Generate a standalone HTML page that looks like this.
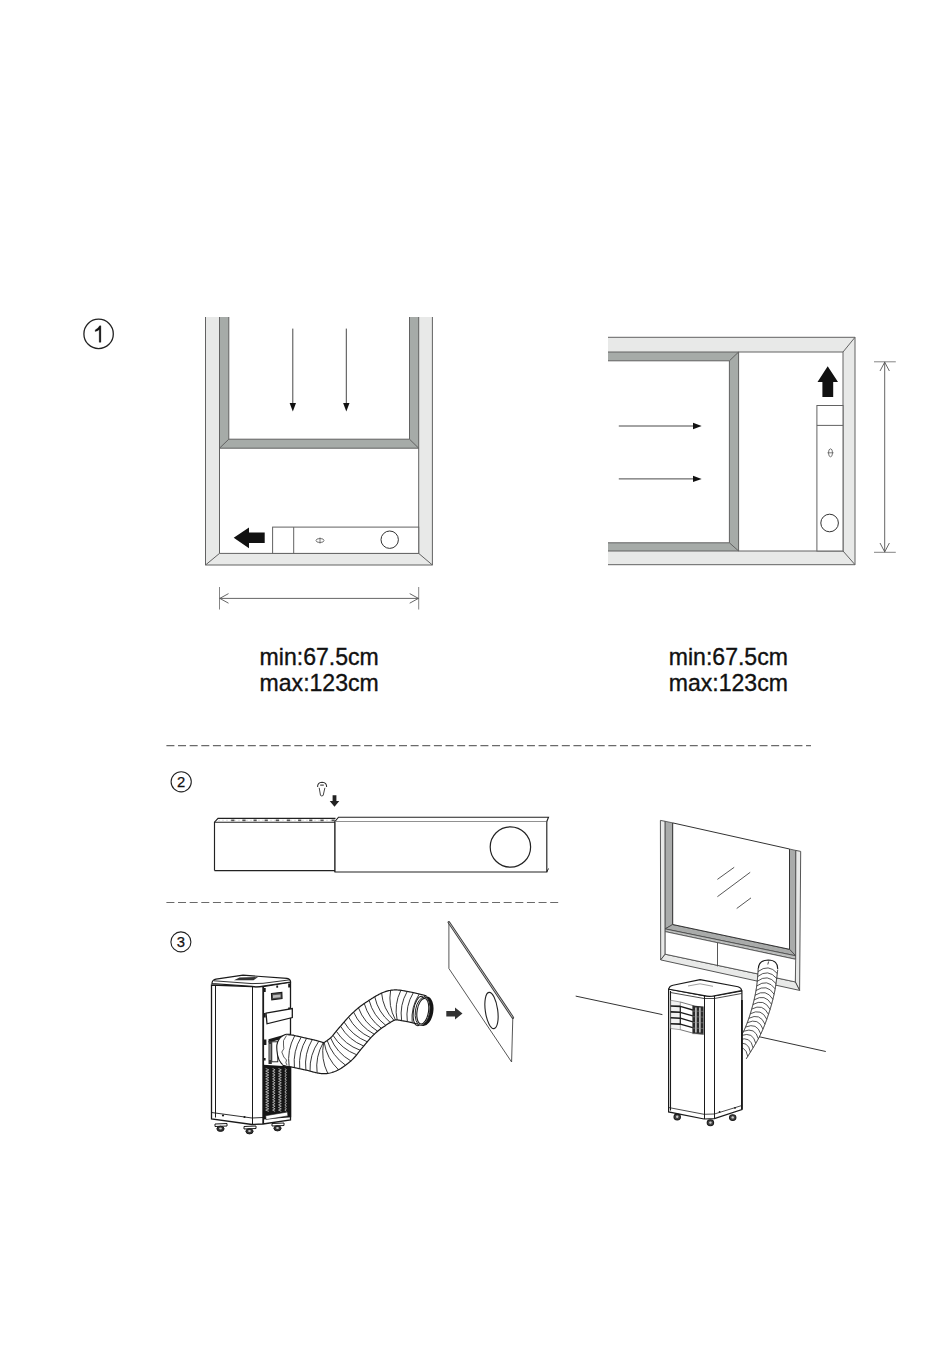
<!DOCTYPE html>
<html><head><meta charset="utf-8"><style>
html,body{margin:0;padding:0;background:#fff;}
body{width:950px;height:1353px;overflow:hidden;}
svg{display:block;font-family:"Liberation Sans",sans-serif;}
</style></head><body>
<svg width="950" height="1353" viewBox="0 0 950 1353">
<circle cx="98.6" cy="333.9" r="14.7" fill="none" stroke="#222" stroke-width="1.3"/>
<path d="M100.9,342.3 L100.9,325.8 L99.6,325.8 Q98.2,328.6 95.2,329.9 L95.2,331.6 Q98.3,330.7 99.2,329.4 L99.2,342.3 Z" fill="#111" stroke="#111" stroke-width="0.3"/>
<polygon points="205.5,317.0 432.4,317.0 432.4,565.0 205.5,565.0" fill="#e8e9e8" stroke="none" stroke-width="0" />
<rect x="219.5" y="317" width="199.2" height="236.39999999999998" fill="#fff"/>
<polygon points="219.5,317.0 418.7,317.0 418.7,448.2 219.5,448.2" fill="#a6aba8" stroke="none" stroke-width="0" />
<rect x="228.8" y="317" width="180.7" height="122.19999999999999" fill="#fff"/>
<polyline points="205.5,317 205.5,565 432.4,565 432.4,317" fill="none" stroke="#626262" stroke-width="1" stroke-linejoin="miter"/>
<polyline points="219.5,317 219.5,553.4 418.7,553.4 418.7,317" fill="none" stroke="#626262" stroke-width="1" stroke-linejoin="miter"/>
<polyline points="228.8,317 228.8,439.2 409.5,439.2 409.5,317" fill="none" stroke="#626262" stroke-width="1" stroke-linejoin="miter"/>
<line x1="219.5" y1="448.2" x2="418.7" y2="448.2" stroke="#626262" stroke-width="1" />
<line x1="205.5" y1="565" x2="219.5" y2="553.4" stroke="#626262" stroke-width="1" />
<line x1="432.4" y1="565" x2="418.7" y2="553.4" stroke="#626262" stroke-width="1" />
<line x1="219.5" y1="448.2" x2="228.8" y2="439.2" stroke="#626262" stroke-width="1" />
<line x1="418.7" y1="448.2" x2="409.5" y2="439.2" stroke="#626262" stroke-width="1" />
<line x1="292.8" y1="328.6" x2="292.8" y2="404" stroke="#333" stroke-width="0.9" />
<polygon points="289.6,403.0 296.0,403.0 292.8,411.6" fill="#111" stroke="none" stroke-width="0" />
<line x1="346.3" y1="328.6" x2="346.3" y2="404" stroke="#333" stroke-width="0.9" />
<polygon points="343.1,403.0 349.5,403.0 346.3,411.6" fill="#111" stroke="none" stroke-width="0" />
<rect x="272.6" y="527.1" width="146.1" height="26.3" fill="#fff" stroke="#626262" stroke-width="1"/>
<line x1="293.7" y1="527.1" x2="293.7" y2="553.4" stroke="#626262" stroke-width="1" />
<circle cx="389.7" cy="539.7" r="8.7" fill="none" stroke="#333" stroke-width="1"/>
<ellipse cx="320" cy="540.5" rx="4" ry="2" fill="none" stroke="#555" stroke-width="0.8"/>
<line x1="320" y1="537.5" x2="320" y2="543.5" stroke="#555" stroke-width="0.8" />
<polygon points="233.7,537.8 249.0,527.4 249.0,532.4 264.7,532.4 264.7,542.9 249.0,542.9 249.0,548.2" fill="#111" stroke="none" stroke-width="0" />
<line x1="219.5" y1="587" x2="219.5" y2="609.5" stroke="#777" stroke-width="0.9" />
<line x1="418.7" y1="587" x2="418.7" y2="609.5" stroke="#777" stroke-width="0.9" />
<line x1="219.5" y1="598.4" x2="418.7" y2="598.4" stroke="#555" stroke-width="0.9" />
<polyline points="228.5,593.6 219.8,598.4 228.5,603.2" fill="none" stroke="#555" stroke-width="0.9"/>
<polyline points="409.7,593.6 418.4,598.4 409.7,603.2" fill="none" stroke="#555" stroke-width="0.9"/>
<polygon points="608.0,337.3 855.0,337.3 855.0,564.7 608.0,564.7" fill="#e8e9e8" stroke="none" stroke-width="0" />
<rect x="608" y="352" width="235" height="199" fill="#fff"/>
<polygon points="608.0,352.0 738.6,352.0 738.6,551.0 608.0,551.0" fill="#a6aba8" stroke="none" stroke-width="0" />
<rect x="608" y="360.8" width="121.39999999999998" height="181.99999999999994" fill="#fff"/>
<polyline points="608,337.3 855,337.3 855,564.7 608,564.7" fill="none" stroke="#626262" stroke-width="1" stroke-linejoin="miter"/>
<polyline points="608,352 843,352 843,551 608,551" fill="none" stroke="#626262" stroke-width="1" stroke-linejoin="miter"/>
<polyline points="608,360.8 729.4,360.8 729.4,542.8 608,542.8" fill="none" stroke="#626262" stroke-width="1" stroke-linejoin="miter"/>
<line x1="738.6" y1="352" x2="738.6" y2="551" stroke="#626262" stroke-width="1" />
<line x1="855" y1="337.3" x2="843" y2="352" stroke="#626262" stroke-width="1" />
<line x1="855" y1="564.7" x2="843" y2="551" stroke="#626262" stroke-width="1" />
<line x1="738.6" y1="352" x2="729.4" y2="360.8" stroke="#626262" stroke-width="1" />
<line x1="738.6" y1="551" x2="729.4" y2="542.8" stroke="#626262" stroke-width="1" />
<line x1="618.8" y1="426" x2="694" y2="426" stroke="#333" stroke-width="0.9" />
<polygon points="693.0,422.8 693.0,429.2 701.7,426.0" fill="#111" stroke="none" stroke-width="0" />
<line x1="618.8" y1="478.9" x2="694" y2="478.9" stroke="#333" stroke-width="0.9" />
<polygon points="693.0,475.7 693.0,482.1 701.7,478.9" fill="#111" stroke="none" stroke-width="0" />
<rect x="816.9" y="405.5" width="26.1" height="145.5" fill="#fff" stroke="#626262" stroke-width="1"/>
<line x1="816.9" y1="425.4" x2="843" y2="425.4" stroke="#626262" stroke-width="1" />
<circle cx="829.6" cy="523" r="8.8" fill="none" stroke="#333" stroke-width="1"/>
<ellipse cx="830.5" cy="452.8" rx="2" ry="4" fill="none" stroke="#555" stroke-width="0.8"/>
<line x1="827.5" y1="452.8" x2="833.5" y2="452.8" stroke="#555" stroke-width="0.8" />
<polygon points="827.7,366.3 838.0,382.0 833.2,382.0 833.2,397.0 822.4,397.0 822.4,382.0 817.5,382.0" fill="#111" stroke="none" stroke-width="0" />
<line x1="874" y1="361.8" x2="895.8" y2="361.8" stroke="#777" stroke-width="0.9" />
<line x1="874" y1="552.3" x2="895.8" y2="552.3" stroke="#777" stroke-width="0.9" />
<line x1="884.7" y1="361.8" x2="884.7" y2="552.3" stroke="#555" stroke-width="0.9" />
<polyline points="880,371 884.7,362.2 889.4,371" fill="none" stroke="#555" stroke-width="0.9"/>
<polyline points="880,543 884.7,551.9 889.4,543" fill="none" stroke="#555" stroke-width="0.9"/>
<text x="259.6" y="664.8" font-size="23.05" fill="#111" stroke="#111" stroke-width="0.35">min:67.5cm</text>
<text x="259.6" y="690.6" font-size="23.05" fill="#111" stroke="#111" stroke-width="0.35">max:123cm</text>
<text x="668.8" y="664.8" font-size="23.05" fill="#111" stroke="#111" stroke-width="0.35">min:67.5cm</text>
<text x="668.8" y="690.6" font-size="23.05" fill="#111" stroke="#111" stroke-width="0.35">max:123cm</text>
<line x1="166.4" y1="745.6" x2="811" y2="745.6" stroke="#6a6a6a" stroke-width="1.2" stroke-dasharray="8 3.63"/>
<line x1="166.4" y1="902.5" x2="559.2" y2="902.5" stroke="#6a6a6a" stroke-width="1.2" stroke-dasharray="8 3.63"/>
<circle cx="181.2" cy="781.8" r="10.1" fill="none" stroke="#222" stroke-width="1.1"/><text x="181.2" y="787.1" font-size="14.8" text-anchor="middle" fill="#111" stroke="#111" stroke-width="0.25">2</text>
<circle cx="180.9" cy="941.9" r="10.0" fill="none" stroke="#222" stroke-width="1.1"/><text x="180.9" y="947.2" font-size="14.8" text-anchor="middle" fill="#111" stroke="#111" stroke-width="0.25">3</text>
<path d="M214.5,870.6 L214.5,822.2 L218,818.4 L335.5,818.4" fill="none" stroke="#222" stroke-width="1.15"/>
<line x1="214.5" y1="822.2" x2="335.5" y2="822.2" stroke="#222" stroke-width="1.15" />
<line x1="214.5" y1="870.6" x2="335.5" y2="870.6" stroke="#222" stroke-width="1.15" />
<line x1="218" y1="820.3" x2="335" y2="820.3" stroke="#bbb" stroke-width="0.5" stroke-dasharray="2 2"/>
<rect x="231.2" y="819.5" width="3.2" height="1.7" fill="#555"/>
<rect x="242.4" y="819.5" width="3.2" height="1.7" fill="#555"/>
<rect x="253.5" y="819.5" width="3.2" height="1.7" fill="#555"/>
<rect x="264.6" y="819.5" width="3.2" height="1.7" fill="#555"/>
<rect x="275.8" y="819.5" width="3.2" height="1.7" fill="#555"/>
<rect x="286.9" y="819.5" width="3.2" height="1.7" fill="#555"/>
<rect x="298.1" y="819.5" width="3.2" height="1.7" fill="#555"/>
<rect x="309.2" y="819.5" width="3.2" height="1.7" fill="#555"/>
<rect x="320.4" y="819.5" width="3.2" height="1.7" fill="#555"/>
<rect x="331.6" y="819.5" width="3.2" height="1.7" fill="#555"/>
<path d="M335,872 L335,821.5 L338.5,817.2 L548.5,817.2 L546.8,821.5 L335,821.5" fill="#fff" stroke="#222" stroke-width="1.15"/>
<path d="M335,821.5 L335,872 L546.8,872 L546.8,821.5" fill="#fff" stroke="#222" stroke-width="1.15"/>
<line x1="546.8" y1="872" x2="548.5" y2="868.5" stroke="#222" stroke-width="1" />
<circle cx="510.4" cy="847" r="20.2" fill="none" stroke="#222" stroke-width="1.2"/>
<path d="M317.6,787 Q317.3,782.5 322.1,782.3 Q326.9,782.5 326.6,787" fill="none" stroke="#333" stroke-width="1.1"/>
<line x1="320.2" y1="785.1" x2="323.8" y2="785.1" stroke="#222" stroke-width="1" />
<path d="M319.2,787.8 L320.5,795.4 Q321.8,796.6 323.2,795.4 L324.9,787.8" fill="#fff" stroke="#444" stroke-width="1"/>
<polygon points="332.6,795.2 336.4,795.2 336.4,801.0 339.3,801.0 334.5,806.8 329.7,801.0 332.6,801.0" fill="#222" stroke="none" stroke-width="0" />
<polygon points="448.9,922.4 512.8,1017.6 511.6,1062.0 448.9,968.5" fill="#fff" stroke="#444" stroke-width="0.9" />
<line x1="448.9" y1="922.4" x2="512.8" y2="1017.6" stroke="#3a3a3a" stroke-width="2.6" stroke-linecap="round"/>
<line x1="448.9" y1="922.4" x2="512.8" y2="1017.6" stroke="#c8c8c8" stroke-width="0.9" />
<ellipse cx="491.5" cy="1010.5" rx="6.2" ry="18.3" transform="rotate(-8 491.5 1010.5)" fill="none" stroke="#222" stroke-width="1.1"/>
<polygon points="446.3,1011.0 455.0,1011.0 455.0,1007.6 462.5,1013.6 455.0,1019.4 455.0,1016.5 446.3,1016.5" fill="#333" stroke="none" stroke-width="0" />
<line x1="575.7" y1="996.1" x2="662.4" y2="1014.6" stroke="#333" stroke-width="1" />
<line x1="759" y1="1036.7" x2="825.8" y2="1051.5" stroke="#333" stroke-width="1" />
<polygon points="660.4,820.4 665.2,821.3 665.2,954.2 660.7,959.9" fill="#e8e9e8" stroke="#444" stroke-width="0.9" />
<polygon points="795.7,850.4 800.7,851.4 799.6,990.4 795.3,981.9" fill="#e8e9e8" stroke="#444" stroke-width="0.9" />
<polygon points="660.7,959.9 665.2,954.2 795.3,981.9 799.6,990.4" fill="#e8e9e8" stroke="#444" stroke-width="0.9" />
<polygon points="665.2,821.3 672.7,822.9 672.7,924.5 665.2,928.9" fill="#a9abaa" stroke="#444" stroke-width="0.8" />
<polygon points="789.5,849.0 795.7,850.4 795.7,955.8 789.5,949.3" fill="#a9abaa" stroke="#444" stroke-width="0.8" />
<polygon points="665.2,928.9 672.7,924.5 789.5,949.3 795.7,955.8" fill="#a9abaa" stroke="#444" stroke-width="0.8" />
<polygon points="665.2,928.9 795.7,955.8 795.7,959.3 665.2,931.6" fill="#bdbfbe" stroke="#444" stroke-width="0.8" />
<polygon points="672.7,822.9 789.5,849.0 789.5,949.3 672.7,924.5" fill="#fff" stroke="#333" stroke-width="1" />
<polygon points="665.2,931.6 795.7,959.3 795.3,981.9 665.2,954.2" fill="#fff" stroke="#444" stroke-width="0.8" />
<line x1="717.5" y1="942.7" x2="717.5" y2="966.4" stroke="#444" stroke-width="0.9" />
<line x1="717.4" y1="879.4" x2="734.2" y2="867.3" stroke="#444" stroke-width="0.9" />
<line x1="717.4" y1="896.7" x2="750.2" y2="872.3" stroke="#444" stroke-width="0.9" />
<line x1="736.7" y1="908.5" x2="751" y2="897.9" stroke="#444" stroke-width="0.9" />
<path d="M211.5,985 L211.5,1119 L252,1124.5 L263,1124 L290.5,1120 L290.5,982 L263,986.5 L252,986.5 Z" fill="#fff" stroke="#1a1a1a" stroke-width="1.3"/>
<line x1="215.5" y1="986" x2="215.5" y2="1117.5" stroke="#1a1a1a" stroke-width="1" />
<line x1="252.5" y1="986.5" x2="252.5" y2="1124.5" stroke="#1a1a1a" stroke-width="1" />
<line x1="263.2" y1="986.5" x2="263.2" y2="1124" stroke="#1a1a1a" stroke-width="1.8" />
<polyline points="211.5,1112.5 252,1118 263,1117.5 290.5,1113.5" fill="none" stroke="#1a1a1a" stroke-width="0.9"/>
<path d="M212,983 Q212.5,979.8 216,979.2 L243,975.2 L287,978.4 Q290.5,979 290.5,982 L263,986 Q257.5,987.5 252,986.3 L212,983.5 Z" fill="#fff" stroke="#1a1a1a" stroke-width="1.2"/>
<polyline points="214,980.8 252,983.6 263,983.3 290,979.8" fill="none" stroke="#1a1a1a" stroke-width="0.9"/>
<path d="M234,980.2 L239.5,977.6 L258,977 L253.5,980.3 Z" fill="#333"/>
<rect x="263.5" y="988" width="2.2" height="4" fill="#1a1a1a"/>
<rect x="288.2" y="983.5" width="2.2" height="4" fill="#1a1a1a"/>
<rect x="263.5" y="1013" width="2.2" height="4.5" fill="#1a1a1a"/>
<rect x="288.2" y="1007.5" width="2.2" height="4.5" fill="#1a1a1a"/>
<rect x="276.3" y="985.5" width="1.8" height="2.2" fill="#1a1a1a"/>
<path d="M271.5,993.5 L281.8,992.3 L282,998.5 L271.8,999.8 Z" fill="#555" stroke="#1a1a1a" stroke-width="1.2"/>
<path d="M273,995.3 L280.5,994.4 L280.5,997.2 L273,998.1 Z" fill="#bbb"/>
<path d="M266,1013.2 L292.3,1008.6 L292.3,1017.6 L267,1023.8 Z" fill="#fff" stroke="#1a1a1a" stroke-width="1.3"/>
<path d="M268.5,1039.3 L286.2,1034.3 L286.2,1037.5 L271.8,1041.8 L268.5,1042.5 Z" fill="#1a1a1a"/>
<rect x="268.5" y="1041" width="3.3" height="23" fill="#333"/>
<rect x="269.4" y="1044" width="1.4" height="16" fill="#999"/>
<rect x="271.8" y="1041.8" width="6" height="20" fill="#fff" stroke="#1a1a1a" stroke-width="0.9"/>
<rect x="263.6" y="1039.5" width="2.8" height="5.5" fill="#1a1a1a"/>
<rect x="263.6" y="1058" width="2" height="2.5" fill="#1a1a1a"/>
<path d="M263.1,1064.7 L291.2,1066.5 L291.2,1117.2 L263.1,1119.6 Z" fill="#151515"/>
<path d="M265.7,1068.5 L268.8,1069.8 L265.7,1071.1 L268.8,1072.4 L265.7,1073.7 L268.8,1075.0 L265.7,1076.3 L268.8,1077.6 L265.7,1078.9 L268.8,1080.2 L265.7,1081.5 L268.8,1082.8 L265.7,1084.1 L268.8,1085.4 L265.7,1086.7 L268.8,1088.0 L265.7,1089.3 L268.8,1090.6 L265.7,1091.9 L268.8,1093.2 L265.7,1094.5 L268.8,1095.8 L265.7,1097.1 L268.8,1098.4 L265.7,1099.7 L268.8,1101.0 L265.7,1102.3 L268.8,1103.6 L265.7,1104.9 L268.8,1106.2 L265.7,1107.5 L268.8,1108.8 L265.7,1110.1 L268.8,1111.4 M272.6,1068.5 L275.1,1069.8 L272.6,1071.1 L275.1,1072.4 L272.6,1073.7 L275.1,1075.0 L272.6,1076.3 L275.1,1077.6 L272.6,1078.9 L275.1,1080.2 L272.6,1081.5 L275.1,1082.8 L272.6,1084.1 L275.1,1085.4 L272.6,1086.7 L275.1,1088.0 L272.6,1089.3 L275.1,1090.6 L272.6,1091.9 L275.1,1093.2 L272.6,1094.5 L275.1,1095.8 L272.6,1097.1 L275.1,1098.4 L272.6,1099.7 L275.1,1101.0 L272.6,1102.3 L275.1,1103.6 L272.6,1104.9 L275.1,1106.2 L272.6,1107.5 L275.1,1108.8 L272.6,1110.1 L275.1,1111.4 M278.5,1068.5 L281.3,1069.8 L278.5,1071.1 L281.3,1072.4 L278.5,1073.7 L281.3,1075.0 L278.5,1076.3 L281.3,1077.6 L278.5,1078.9 L281.3,1080.2 L278.5,1081.5 L281.3,1082.8 L278.5,1084.1 L281.3,1085.4 L278.5,1086.7 L281.3,1088.0 L278.5,1089.3 L281.3,1090.6 L278.5,1091.9 L281.3,1093.2 L278.5,1094.5 L281.3,1095.8 L278.5,1097.1 L281.3,1098.4 L278.5,1099.7 L281.3,1101.0 L278.5,1102.3 L281.3,1103.6 L278.5,1104.9 L281.3,1106.2 L278.5,1107.5 L281.3,1108.8 L278.5,1110.1 L281.3,1111.4 M284.8,1068.5 L286.5,1069.8 L284.8,1071.1 L286.5,1072.4 L284.8,1073.7 L286.5,1075.0 L284.8,1076.3 L286.5,1077.6 L284.8,1078.9 L286.5,1080.2 L284.8,1081.5 L286.5,1082.8 L284.8,1084.1 L286.5,1085.4 L284.8,1086.7 L286.5,1088.0 L284.8,1089.3 L286.5,1090.6 L284.8,1091.9 L286.5,1093.2 L284.8,1094.5 L286.5,1095.8 L284.8,1097.1 L286.5,1098.4 L284.8,1099.7 L286.5,1101.0 L284.8,1102.3 L286.5,1103.6 L284.8,1104.9 L286.5,1106.2 L284.8,1107.5 L286.5,1108.8 L284.8,1110.1 L286.5,1111.4" stroke="#cfcfcf" stroke-width="0.75" fill="none"/>
<path d="M265.7,1115.7 L287.5,1112 L287.9,1115.9 L266.1,1119.6 Z" fill="#fff" stroke="#1a1a1a" stroke-width="0.6"/>
<path d="M215,1124 L227,1123.5 L227,1126 L215,1126.5 Z" fill="#fff" stroke="#1a1a1a" stroke-width="1"/>
<ellipse cx="220.5" cy="1128.8" rx="3.6" ry="2.6" fill="#333" stroke="#1a1a1a" stroke-width="1"/>
<ellipse cx="220.5" cy="1128.6" rx="1.4" ry="1" fill="#ccc"/>
<path d="M244,1126.5 L256,1126.0 L256,1128.5 L244,1129.0 Z" fill="#fff" stroke="#1a1a1a" stroke-width="1"/>
<ellipse cx="249.5" cy="1131.3" rx="3.6" ry="2.6" fill="#333" stroke="#1a1a1a" stroke-width="1"/>
<ellipse cx="249.5" cy="1131.1" rx="1.4" ry="1" fill="#ccc"/>
<path d="M272,1123.5 L284,1123.0 L284,1125.5 L272,1126.0 Z" fill="#fff" stroke="#1a1a1a" stroke-width="1"/>
<ellipse cx="277.5" cy="1128.3" rx="3.6" ry="2.6" fill="#333" stroke="#1a1a1a" stroke-width="1"/>
<ellipse cx="277.5" cy="1128.1" rx="1.4" ry="1" fill="#ccc"/>
<circle cx="223" cy="1115.5" r="1.1" fill="#1a1a1a"/>
<circle cx="244.5" cy="1117" r="1.1" fill="#1a1a1a"/>
<path d="M286.2,1034.3 Q275.5,1038 276.9,1050.3 Q277.5,1062 284.5,1066 L290,1066 L290,1034.3 Z" fill="#fff" stroke="#1a1a1a" stroke-width="1.1"/>
<path d="M287.38,1034.68 L287.85,1034.72 L288.33,1034.75 L288.80,1034.78 L289.30,1034.82 L289.82,1034.85 L290.35,1034.89 L290.89,1034.94 L291.44,1034.98 L291.99,1035.03 L292.54,1035.08 L293.10,1035.14 L293.66,1035.19 L294.17,1035.55 L294.73,1035.65 L295.28,1035.76 L295.84,1035.86 L296.40,1035.97 L296.96,1036.09 L297.52,1036.20 L298.06,1036.32 L298.60,1036.44 L299.14,1036.55 L299.66,1036.67 L300.18,1036.79 L300.70,1036.90 L301.21,1037.02 L301.71,1037.13 L302.21,1037.25 L302.71,1037.36 L303.21,1037.48 L303.70,1037.59 L304.19,1037.71 L304.68,1037.82 L305.17,1037.93 L305.66,1038.05 L306.14,1038.16 L306.62,1038.27 L307.10,1038.38 L307.58,1038.49 L308.05,1038.60 L308.53,1038.71 L309.00,1038.82 L309.47,1038.92 L309.94,1039.03 L310.41,1039.14 L310.87,1039.24 L311.33,1039.34 L311.79,1039.44 L312.25,1039.54 L312.75,1039.65 L313.32,1039.77 L313.94,1039.90 L314.60,1040.06 L315.28,1040.23 L315.92,1040.40 L316.54,1040.57 L317.15,1040.73 L317.71,1040.90 L318.26,1041.06 L318.79,1041.22 L319.28,1041.37 L319.76,1041.51 L320.23,1041.65 L320.66,1041.78 L321.07,1041.90 L321.47,1042.02 L321.84,1042.13 L322.18,1042.22 L322.51,1042.31 L322.81,1042.38 L323.07,1042.45 L323.31,1042.50 L323.53,1042.55 L323.71,1042.59 L323.85,1042.61 L323.96,1042.63 L324.03,1042.64 L324.06,1042.65 L324.05,1042.65 L323.99,1042.66 L323.88,1042.66 L323.74,1042.68 L323.61,1042.69 L323.49,1042.72 L323.39,1042.74 L323.34,1042.75 L323.32,1042.76 L323.36,1042.75 L323.41,1042.74 L323.48,1042.71 L323.58,1042.67 L323.69,1042.63 L323.84,1042.56 L324.00,1042.49 L324.17,1042.40 L324.36,1042.31 L324.57,1042.19 L324.79,1042.07 L325.02,1041.93 L325.26,1041.79 L325.51,1041.63 L325.78,1041.46 L326.04,1041.28 L326.32,1041.09 L326.61,1040.89 L326.90,1040.68 L327.20,1040.47 L327.51,1040.24 L327.82,1040.00 L328.14,1039.76 L328.47,1039.51 L328.80,1039.25 L329.15,1038.98 L329.49,1038.70 L329.82,1038.44 L330.11,1038.22 L330.35,1038.02 L330.54,1037.86 L330.70,1037.72 L330.87,1037.57 L331.04,1037.41 L331.22,1037.23 L331.41,1037.04 L331.61,1036.83 L331.82,1036.61 L332.03,1036.38 L332.25,1036.13 L332.49,1035.86 L332.72,1035.58 L332.97,1035.29 L333.23,1034.98 L333.49,1034.66 L333.77,1034.32 L334.05,1033.97 L334.34,1033.61 L334.64,1033.23 L334.95,1032.84 L335.26,1032.44 L335.59,1032.03 L335.93,1031.61 L336.27,1031.18 L336.63,1030.74 L337.00,1030.28 L337.38,1029.82 L337.77,1029.36 L338.17,1028.89 L338.56,1028.43 L338.93,1028.01 L339.28,1027.62 L339.60,1027.26 L339.90,1026.91 L340.20,1026.56 L340.51,1026.21 L340.82,1025.86 L341.13,1025.49 L341.44,1025.13 L341.76,1024.75 L342.08,1024.38 L342.41,1024.00 L342.73,1023.62 L343.06,1023.23 L343.40,1022.84 L343.73,1022.45 L344.08,1022.05 L344.42,1021.65 L344.77,1021.25 L345.12,1020.84 L345.48,1020.43 L345.84,1020.02 L346.21,1019.61 L346.58,1019.19 L346.95,1018.77 L347.34,1018.35 L347.72,1017.92 L348.12,1017.50 L348.52,1017.06 L348.93,1016.63 L349.35,1016.20 L349.78,1015.75 L350.21,1015.31 L350.65,1014.88 L351.09,1014.44 L351.52,1014.03 L351.93,1013.63 L352.34,1013.25 L352.74,1012.87 L353.15,1012.48 L353.56,1012.10 L353.98,1011.71 L354.41,1011.33 L354.83,1010.94 L355.27,1010.55 L355.71,1010.16 L356.16,1009.77 L356.60,1009.38 L357.06,1009.00 L357.52,1008.61 L357.99,1008.22 L358.46,1007.84 L358.92,1007.46 L359.40,1007.08 L359.88,1006.70 L360.36,1006.33 L360.85,1005.96 L361.33,1005.60 L361.82,1005.24 L362.31,1004.89 L362.80,1004.54 L363.29,1004.19 L363.78,1003.85 L364.26,1003.51 L364.76,1003.18 L365.23,1002.86 L365.69,1002.55 L366.13,1002.26 L366.55,1001.99 L366.96,1001.72 L367.37,1001.44 L367.79,1001.17 L368.21,1000.89 L368.65,1000.60 L369.08,1000.31 L369.52,1000.02 L369.97,999.73 L370.42,999.44 L370.88,999.14 L371.34,998.85 L371.81,998.55 L372.28,998.25 L372.76,997.95 L373.25,997.64 L373.74,997.34 L374.24,997.04 L374.74,996.74 L375.26,996.43 L375.78,996.13 L376.31,995.83 L376.85,995.52 L377.40,995.22 L377.97,994.91 L378.52,994.62 L379.12,994.31 L379.72,994.01 L380.33,993.71 L380.98,993.40 L381.60,993.12 L382.29,992.82 L382.99,992.52 L383.68,992.25 L384.47,991.95 L385.25,991.67 L386.06,991.41 L386.96,991.14 L387.84,990.90 L388.75,990.69 L389.69,990.50 L390.62,990.33 L391.55,990.20 L392.48,990.10 L393.41,990.02 L394.31,989.97 L395.21,989.94 L396.09,989.94 L396.96,989.96 L397.79,989.99 L398.60,990.05 L399.39,990.12 L400.16,990.20 L400.89,990.29 L401.60,990.39 L402.28,990.50 L402.94,990.61 L403.57,990.72 L404.17,990.83 L404.74,990.94 L405.29,991.05 L405.81,991.15 L406.31,991.26 L406.79,991.35 L407.24,991.44 L407.66,991.53 L408.07,991.61 L408.45,991.68 L408.86,991.75 L409.31,991.83 L409.81,991.91 L410.40,992.01 L411.01,992.12 L411.62,992.24 L412.22,992.36 L412.79,992.47 L413.36,992.60 L413.93,992.72 L414.48,992.84 L415.03,992.97 L415.58,993.09 L416.11,993.22 L416.65,993.34 L417.18,993.47 L417.70,993.60 L418.23,993.73 L418.75,993.86 L419.26,993.99 L419.78,994.12 L420.29,994.25 L420.80,994.38 L421.30,994.52 L421.80,994.65 L422.30,994.78 L422.79,994.91 L423.28,995.04 L423.77,995.16 L424.24,995.29 L424.71,995.41 L425.16,995.53 L425.59,995.64 L426.04,995.76 L426.49,995.87 L419.51,1024.53 L418.98,1024.41 L418.47,1024.28 L417.92,1024.15 L417.40,1024.02 L416.90,1023.89 L416.40,1023.77 L415.92,1023.65 L415.43,1023.53 L414.96,1023.41 L414.49,1023.29 L414.02,1023.17 L413.55,1023.06 L413.09,1022.94 L412.62,1022.83 L412.17,1022.72 L411.71,1022.61 L411.25,1022.50 L410.80,1022.40 L410.35,1022.29 L409.91,1022.19 L409.47,1022.09 L409.02,1022.00 L408.60,1021.90 L408.17,1021.81 L407.74,1021.72 L407.33,1021.64 L406.91,1021.56 L406.51,1021.48 L406.13,1021.41 L405.75,1021.34 L405.37,1021.28 L404.97,1021.21 L404.49,1021.14 L403.95,1021.06 L403.36,1020.96 L402.76,1020.86 L402.18,1020.75 L401.63,1020.65 L401.09,1020.55 L400.58,1020.45 L400.10,1020.36 L399.64,1020.27 L399.20,1020.19 L398.79,1020.12 L398.40,1020.05 L398.05,1019.99 L397.71,1019.94 L397.41,1019.90 L397.12,1019.86 L396.86,1019.83 L396.63,1019.81 L396.42,1019.80 L396.24,1019.79 L396.06,1019.78 L395.93,1019.78 L395.81,1019.78 L395.70,1019.79 L395.61,1019.80 L395.53,1019.81 L395.47,1019.82 L395.41,1019.83 L395.36,1019.85 L395.31,1019.86 L395.25,1019.87 L395.17,1019.90 L395.11,1019.93 L394.96,1019.97 L394.80,1020.04 L394.65,1020.10 L394.42,1020.20 L394.19,1020.30 L393.97,1020.40 L393.68,1020.54 L393.43,1020.66 L393.14,1020.81 L392.84,1020.96 L392.55,1021.12 L392.22,1021.30 L391.92,1021.47 L391.58,1021.66 L391.26,1021.85 L390.92,1022.05 L390.58,1022.25 L390.24,1022.46 L389.88,1022.68 L389.53,1022.90 L389.16,1023.13 L388.80,1023.36 L388.44,1023.60 L388.07,1023.84 L387.70,1024.08 L387.31,1024.33 L386.94,1024.58 L386.55,1024.84 L386.16,1025.10 L385.77,1025.37 L385.37,1025.64 L384.97,1025.91 L384.56,1026.19 L384.15,1026.47 L383.73,1026.75 L383.31,1027.04 L382.89,1027.32 L382.50,1027.59 L382.13,1027.84 L381.77,1028.09 L381.44,1028.32 L381.10,1028.55 L380.78,1028.79 L380.45,1029.03 L380.13,1029.27 L379.81,1029.50 L379.49,1029.74 L379.18,1029.99 L378.87,1030.23 L378.56,1030.47 L378.26,1030.72 L377.95,1030.97 L377.64,1031.22 L377.34,1031.48 L377.04,1031.73 L376.74,1031.99 L376.43,1032.26 L376.13,1032.53 L375.82,1032.81 L375.52,1033.08 L375.21,1033.37 L374.90,1033.66 L374.58,1033.95 L374.27,1034.25 L373.95,1034.55 L373.63,1034.85 L373.31,1035.17 L373.00,1035.47 L372.69,1035.77 L372.40,1036.06 L372.13,1036.33 L371.86,1036.60 L371.60,1036.88 L371.33,1037.16 L371.06,1037.46 L370.78,1037.76 L370.51,1038.06 L370.23,1038.37 L369.94,1038.69 L369.66,1039.02 L369.37,1039.34 L369.08,1039.68 L368.78,1040.02 L368.49,1040.36 L368.19,1040.71 L367.89,1041.07 L367.59,1041.43 L367.28,1041.79 L366.98,1042.16 L366.67,1042.53 L366.35,1042.90 L366.04,1043.28 L365.72,1043.67 L365.40,1044.05 L365.07,1044.44 L364.74,1044.84 L364.41,1045.24 L364.07,1045.64 L363.73,1046.04 L363.39,1046.45 L363.04,1046.86 L362.68,1047.28 L362.34,1047.67 L362.03,1048.03 L361.74,1048.37 L361.49,1048.67 L361.24,1048.97 L360.99,1049.28 L360.74,1049.59 L360.48,1049.92 L360.21,1050.26 L359.93,1050.62 L359.65,1050.98 L359.36,1051.36 L359.05,1051.75 L358.74,1052.15 L358.43,1052.56 L358.10,1052.98 L357.76,1053.42 L357.40,1053.86 L357.04,1054.32 L356.66,1054.79 L356.27,1055.27 L355.86,1055.75 L355.44,1056.25 L355.01,1056.75 L354.55,1057.26 L354.08,1057.78 L353.59,1058.30 L353.08,1058.83 L352.55,1059.36 L352.01,1059.90 L351.44,1060.43 L350.85,1060.95 L350.28,1061.45 L349.76,1061.89 L349.27,1062.30 L348.82,1062.67 L348.38,1063.02 L347.94,1063.38 L347.49,1063.74 L347.03,1064.10 L346.55,1064.47 L346.07,1064.84 L345.58,1065.22 L345.07,1065.59 L344.55,1065.97 L344.02,1066.35 L343.48,1066.73 L342.91,1067.12 L342.34,1067.50 L341.75,1067.88 L341.14,1068.27 L340.51,1068.65 L339.87,1069.03 L339.20,1069.40 L338.50,1069.78 L337.79,1070.15 L337.05,1070.52 L336.28,1070.87 L335.48,1071.22 L334.65,1071.56 L333.78,1071.89 L332.88,1072.19 L331.96,1072.48 L330.98,1072.75 L329.95,1073.00 L328.87,1073.22 L327.76,1073.39 L326.63,1073.53 L325.49,1073.61 L324.38,1073.65 L323.32,1073.64 L322.31,1073.61 L321.34,1073.54 L320.42,1073.45 L319.53,1073.34 L318.68,1073.21 L317.88,1073.07 L317.11,1072.93 L316.37,1072.77 L315.66,1072.61 L314.98,1072.45 L314.34,1072.29 L313.71,1072.12 L313.12,1071.96 L312.55,1071.80 L312.00,1071.65 L311.47,1071.50 L310.97,1071.35 L310.49,1071.21 L310.03,1071.08 L309.60,1070.96 L309.18,1070.84 L308.78,1070.73 L308.42,1070.63 L308.07,1070.54 L307.74,1070.46 L307.45,1070.40 L307.13,1070.33 L306.77,1070.25 L306.36,1070.17 L305.88,1070.07 L305.36,1069.97 L304.84,1069.86 L304.32,1069.75 L303.80,1069.65 L303.29,1069.54 L302.78,1069.43 L302.27,1069.32 L301.77,1069.21 L301.26,1069.10 L300.76,1068.99 L300.26,1068.89 L299.76,1068.78 L299.27,1068.67 L298.77,1068.56 L298.28,1068.45 L297.79,1068.34 L297.30,1068.24 L296.82,1068.13 L296.33,1068.03 L295.85,1067.92 L295.37,1067.82 L294.90,1067.71 L294.42,1067.61 L293.96,1067.51 L293.49,1067.41 L293.03,1067.31 L292.58,1067.22 L292.13,1067.13 L291.69,1067.04 L291.26,1066.95 L290.83,1066.87 L290.41,1066.79 L289.98,1066.71 L289.55,1066.64 L289.13,1066.56 L288.70,1066.49 L288.22,1066.67 L287.79,1066.56 L287.36,1066.44 L286.92,1066.33 L286.49,1066.22 L286.04,1066.11 L285.59,1066.01 L285.14,1065.90 L284.67,1065.79 L284.18,1065.67 L283.65,1065.56 L283.14,1065.44 L282.62,1065.32Z" fill="#fff" stroke="none"/>
<path d="M287.38,1034.68 L287.85,1034.72 L288.33,1034.75 L288.80,1034.78 L289.30,1034.82 L289.82,1034.85 L290.35,1034.89 L290.89,1034.94 L291.44,1034.98 L291.99,1035.03 L292.54,1035.08 L293.10,1035.14 L293.66,1035.19 L294.17,1035.55 L294.73,1035.65 L295.28,1035.76 L295.84,1035.86 L296.40,1035.97 L296.96,1036.09 L297.52,1036.20 L298.06,1036.32 L298.60,1036.44 L299.14,1036.55 L299.66,1036.67 L300.18,1036.79 L300.70,1036.90 L301.21,1037.02 L301.71,1037.13 L302.21,1037.25 L302.71,1037.36 L303.21,1037.48 L303.70,1037.59 L304.19,1037.71 L304.68,1037.82 L305.17,1037.93 L305.66,1038.05 L306.14,1038.16 L306.62,1038.27 L307.10,1038.38 L307.58,1038.49 L308.05,1038.60 L308.53,1038.71 L309.00,1038.82 L309.47,1038.92 L309.94,1039.03 L310.41,1039.14 L310.87,1039.24 L311.33,1039.34 L311.79,1039.44 L312.25,1039.54 L312.75,1039.65 L313.32,1039.77 L313.94,1039.90 L314.60,1040.06 L315.28,1040.23 L315.92,1040.40 L316.54,1040.57 L317.15,1040.73 L317.71,1040.90 L318.26,1041.06 L318.79,1041.22 L319.28,1041.37 L319.76,1041.51 L320.23,1041.65 L320.66,1041.78 L321.07,1041.90 L321.47,1042.02 L321.84,1042.13 L322.18,1042.22 L322.51,1042.31 L322.81,1042.38 L323.07,1042.45 L323.31,1042.50 L323.53,1042.55 L323.71,1042.59 L323.85,1042.61 L323.96,1042.63 L324.03,1042.64 L324.06,1042.65 L324.05,1042.65 L323.99,1042.66 L323.88,1042.66 L323.74,1042.68 L323.61,1042.69 L323.49,1042.72 L323.39,1042.74 L323.34,1042.75 L323.32,1042.76 L323.36,1042.75 L323.41,1042.74 L323.48,1042.71 L323.58,1042.67 L323.69,1042.63 L323.84,1042.56 L324.00,1042.49 L324.17,1042.40 L324.36,1042.31 L324.57,1042.19 L324.79,1042.07 L325.02,1041.93 L325.26,1041.79 L325.51,1041.63 L325.78,1041.46 L326.04,1041.28 L326.32,1041.09 L326.61,1040.89 L326.90,1040.68 L327.20,1040.47 L327.51,1040.24 L327.82,1040.00 L328.14,1039.76 L328.47,1039.51 L328.80,1039.25 L329.15,1038.98 L329.49,1038.70 L329.82,1038.44 L330.11,1038.22 L330.35,1038.02 L330.54,1037.86 L330.70,1037.72 L330.87,1037.57 L331.04,1037.41 L331.22,1037.23 L331.41,1037.04 L331.61,1036.83 L331.82,1036.61 L332.03,1036.38 L332.25,1036.13 L332.49,1035.86 L332.72,1035.58 L332.97,1035.29 L333.23,1034.98 L333.49,1034.66 L333.77,1034.32 L334.05,1033.97 L334.34,1033.61 L334.64,1033.23 L334.95,1032.84 L335.26,1032.44 L335.59,1032.03 L335.93,1031.61 L336.27,1031.18 L336.63,1030.74 L337.00,1030.28 L337.38,1029.82 L337.77,1029.36 L338.17,1028.89 L338.56,1028.43 L338.93,1028.01 L339.28,1027.62 L339.60,1027.26 L339.90,1026.91 L340.20,1026.56 L340.51,1026.21 L340.82,1025.86 L341.13,1025.49 L341.44,1025.13 L341.76,1024.75 L342.08,1024.38 L342.41,1024.00 L342.73,1023.62 L343.06,1023.23 L343.40,1022.84 L343.73,1022.45 L344.08,1022.05 L344.42,1021.65 L344.77,1021.25 L345.12,1020.84 L345.48,1020.43 L345.84,1020.02 L346.21,1019.61 L346.58,1019.19 L346.95,1018.77 L347.34,1018.35 L347.72,1017.92 L348.12,1017.50 L348.52,1017.06 L348.93,1016.63 L349.35,1016.20 L349.78,1015.75 L350.21,1015.31 L350.65,1014.88 L351.09,1014.44 L351.52,1014.03 L351.93,1013.63 L352.34,1013.25 L352.74,1012.87 L353.15,1012.48 L353.56,1012.10 L353.98,1011.71 L354.41,1011.33 L354.83,1010.94 L355.27,1010.55 L355.71,1010.16 L356.16,1009.77 L356.60,1009.38 L357.06,1009.00 L357.52,1008.61 L357.99,1008.22 L358.46,1007.84 L358.92,1007.46 L359.40,1007.08 L359.88,1006.70 L360.36,1006.33 L360.85,1005.96 L361.33,1005.60 L361.82,1005.24 L362.31,1004.89 L362.80,1004.54 L363.29,1004.19 L363.78,1003.85 L364.26,1003.51 L364.76,1003.18 L365.23,1002.86 L365.69,1002.55 L366.13,1002.26 L366.55,1001.99 L366.96,1001.72 L367.37,1001.44 L367.79,1001.17 L368.21,1000.89 L368.65,1000.60 L369.08,1000.31 L369.52,1000.02 L369.97,999.73 L370.42,999.44 L370.88,999.14 L371.34,998.85 L371.81,998.55 L372.28,998.25 L372.76,997.95 L373.25,997.64 L373.74,997.34 L374.24,997.04 L374.74,996.74 L375.26,996.43 L375.78,996.13 L376.31,995.83 L376.85,995.52 L377.40,995.22 L377.97,994.91 L378.52,994.62 L379.12,994.31 L379.72,994.01 L380.33,993.71 L380.98,993.40 L381.60,993.12 L382.29,992.82 L382.99,992.52 L383.68,992.25 L384.47,991.95 L385.25,991.67 L386.06,991.41 L386.96,991.14 L387.84,990.90 L388.75,990.69 L389.69,990.50 L390.62,990.33 L391.55,990.20 L392.48,990.10 L393.41,990.02 L394.31,989.97 L395.21,989.94 L396.09,989.94 L396.96,989.96 L397.79,989.99 L398.60,990.05 L399.39,990.12 L400.16,990.20 L400.89,990.29 L401.60,990.39 L402.28,990.50 L402.94,990.61 L403.57,990.72 L404.17,990.83 L404.74,990.94 L405.29,991.05 L405.81,991.15 L406.31,991.26 L406.79,991.35 L407.24,991.44 L407.66,991.53 L408.07,991.61 L408.45,991.68 L408.86,991.75 L409.31,991.83 L409.81,991.91 L410.40,992.01 L411.01,992.12 L411.62,992.24 L412.22,992.36 L412.79,992.47 L413.36,992.60 L413.93,992.72 L414.48,992.84 L415.03,992.97 L415.58,993.09 L416.11,993.22 L416.65,993.34 L417.18,993.47 L417.70,993.60 L418.23,993.73 L418.75,993.86 L419.26,993.99 L419.78,994.12 L420.29,994.25 L420.80,994.38 L421.30,994.52 L421.80,994.65 L422.30,994.78 L422.79,994.91 L423.28,995.04 L423.77,995.16 L424.24,995.29 L424.71,995.41 L425.16,995.53 L425.59,995.64 L426.04,995.76 L426.49,995.87" fill="none" stroke="#1a1a1a" stroke-width="1.2" stroke-linejoin="round"/>
<path d="M282.62,1065.32 L283.14,1065.44 L283.65,1065.56 L284.18,1065.67 L284.67,1065.79 L285.14,1065.90 L285.59,1066.01 L286.04,1066.11 L286.49,1066.22 L286.92,1066.33 L287.36,1066.44 L287.79,1066.56 L288.22,1066.67 L288.70,1066.49 L289.13,1066.56 L289.55,1066.64 L289.98,1066.71 L290.41,1066.79 L290.83,1066.87 L291.26,1066.95 L291.69,1067.04 L292.13,1067.13 L292.58,1067.22 L293.03,1067.31 L293.49,1067.41 L293.96,1067.51 L294.42,1067.61 L294.90,1067.71 L295.37,1067.82 L295.85,1067.92 L296.33,1068.03 L296.82,1068.13 L297.30,1068.24 L297.79,1068.34 L298.28,1068.45 L298.77,1068.56 L299.27,1068.67 L299.76,1068.78 L300.26,1068.89 L300.76,1068.99 L301.26,1069.10 L301.77,1069.21 L302.27,1069.32 L302.78,1069.43 L303.29,1069.54 L303.80,1069.65 L304.32,1069.75 L304.84,1069.86 L305.36,1069.97 L305.88,1070.07 L306.36,1070.17 L306.77,1070.25 L307.13,1070.33 L307.45,1070.40 L307.74,1070.46 L308.07,1070.54 L308.42,1070.63 L308.78,1070.73 L309.18,1070.84 L309.60,1070.96 L310.03,1071.08 L310.49,1071.21 L310.97,1071.35 L311.47,1071.50 L312.00,1071.65 L312.55,1071.80 L313.12,1071.96 L313.71,1072.12 L314.34,1072.29 L314.98,1072.45 L315.66,1072.61 L316.37,1072.77 L317.11,1072.93 L317.88,1073.07 L318.68,1073.21 L319.53,1073.34 L320.42,1073.45 L321.34,1073.54 L322.31,1073.61 L323.32,1073.64 L324.38,1073.65 L325.49,1073.61 L326.63,1073.53 L327.76,1073.39 L328.87,1073.22 L329.95,1073.00 L330.98,1072.75 L331.96,1072.48 L332.88,1072.19 L333.78,1071.89 L334.65,1071.56 L335.48,1071.22 L336.28,1070.87 L337.05,1070.52 L337.79,1070.15 L338.50,1069.78 L339.20,1069.40 L339.87,1069.03 L340.51,1068.65 L341.14,1068.27 L341.75,1067.88 L342.34,1067.50 L342.91,1067.12 L343.48,1066.73 L344.02,1066.35 L344.55,1065.97 L345.07,1065.59 L345.58,1065.22 L346.07,1064.84 L346.55,1064.47 L347.03,1064.10 L347.49,1063.74 L347.94,1063.38 L348.38,1063.02 L348.82,1062.67 L349.27,1062.30 L349.76,1061.89 L350.28,1061.45 L350.85,1060.95 L351.44,1060.43 L352.01,1059.90 L352.55,1059.36 L353.08,1058.83 L353.59,1058.30 L354.08,1057.78 L354.55,1057.26 L355.01,1056.75 L355.44,1056.25 L355.86,1055.75 L356.27,1055.27 L356.66,1054.79 L357.04,1054.32 L357.40,1053.86 L357.76,1053.42 L358.10,1052.98 L358.43,1052.56 L358.74,1052.15 L359.05,1051.75 L359.36,1051.36 L359.65,1050.98 L359.93,1050.62 L360.21,1050.26 L360.48,1049.92 L360.74,1049.59 L360.99,1049.28 L361.24,1048.97 L361.49,1048.67 L361.74,1048.37 L362.03,1048.03 L362.34,1047.67 L362.68,1047.28 L363.04,1046.86 L363.39,1046.45 L363.73,1046.04 L364.07,1045.64 L364.41,1045.24 L364.74,1044.84 L365.07,1044.44 L365.40,1044.05 L365.72,1043.67 L366.04,1043.28 L366.35,1042.90 L366.67,1042.53 L366.98,1042.16 L367.28,1041.79 L367.59,1041.43 L367.89,1041.07 L368.19,1040.71 L368.49,1040.36 L368.78,1040.02 L369.08,1039.68 L369.37,1039.34 L369.66,1039.02 L369.94,1038.69 L370.23,1038.37 L370.51,1038.06 L370.78,1037.76 L371.06,1037.46 L371.33,1037.16 L371.60,1036.88 L371.86,1036.60 L372.13,1036.33 L372.40,1036.06 L372.69,1035.77 L373.00,1035.47 L373.31,1035.17 L373.63,1034.85 L373.95,1034.55 L374.27,1034.25 L374.58,1033.95 L374.90,1033.66 L375.21,1033.37 L375.52,1033.08 L375.82,1032.81 L376.13,1032.53 L376.43,1032.26 L376.74,1031.99 L377.04,1031.73 L377.34,1031.48 L377.64,1031.22 L377.95,1030.97 L378.26,1030.72 L378.56,1030.47 L378.87,1030.23 L379.18,1029.99 L379.49,1029.74 L379.81,1029.50 L380.13,1029.27 L380.45,1029.03 L380.78,1028.79 L381.10,1028.55 L381.44,1028.32 L381.77,1028.09 L382.13,1027.84 L382.50,1027.59 L382.89,1027.32 L383.31,1027.04 L383.73,1026.75 L384.15,1026.47 L384.56,1026.19 L384.97,1025.91 L385.37,1025.64 L385.77,1025.37 L386.16,1025.10 L386.55,1024.84 L386.94,1024.58 L387.31,1024.33 L387.70,1024.08 L388.07,1023.84 L388.44,1023.60 L388.80,1023.36 L389.16,1023.13 L389.53,1022.90 L389.88,1022.68 L390.24,1022.46 L390.58,1022.25 L390.92,1022.05 L391.26,1021.85 L391.58,1021.66 L391.92,1021.47 L392.22,1021.30 L392.55,1021.12 L392.84,1020.96 L393.14,1020.81 L393.43,1020.66 L393.68,1020.54 L393.97,1020.40 L394.19,1020.30 L394.42,1020.20 L394.65,1020.10 L394.80,1020.04 L394.96,1019.97 L395.11,1019.93 L395.17,1019.90 L395.25,1019.87 L395.31,1019.86 L395.36,1019.85 L395.41,1019.83 L395.47,1019.82 L395.53,1019.81 L395.61,1019.80 L395.70,1019.79 L395.81,1019.78 L395.93,1019.78 L396.06,1019.78 L396.24,1019.79 L396.42,1019.80 L396.63,1019.81 L396.86,1019.83 L397.12,1019.86 L397.41,1019.90 L397.71,1019.94 L398.05,1019.99 L398.40,1020.05 L398.79,1020.12 L399.20,1020.19 L399.64,1020.27 L400.10,1020.36 L400.58,1020.45 L401.09,1020.55 L401.63,1020.65 L402.18,1020.75 L402.76,1020.86 L403.36,1020.96 L403.95,1021.06 L404.49,1021.14 L404.97,1021.21 L405.37,1021.28 L405.75,1021.34 L406.13,1021.41 L406.51,1021.48 L406.91,1021.56 L407.33,1021.64 L407.74,1021.72 L408.17,1021.81 L408.60,1021.90 L409.02,1022.00 L409.47,1022.09 L409.91,1022.19 L410.35,1022.29 L410.80,1022.40 L411.25,1022.50 L411.71,1022.61 L412.17,1022.72 L412.62,1022.83 L413.09,1022.94 L413.55,1023.06 L414.02,1023.17 L414.49,1023.29 L414.96,1023.41 L415.43,1023.53 L415.92,1023.65 L416.40,1023.77 L416.90,1023.89 L417.40,1024.02 L417.92,1024.15 L418.47,1024.28 L418.98,1024.41 L419.51,1024.53" fill="none" stroke="#1a1a1a" stroke-width="1.2" stroke-linejoin="round"/>
<path d="M294.73,1035.65 Q286.81,1050.18 289.13,1066.56 M301.21,1037.02 Q292.74,1051.19 294.42,1067.61 M306.62,1038.27 Q298.12,1052.38 299.76,1068.78 M312.25,1039.54 Q303.97,1053.75 305.88,1070.07 M318.79,1041.22 Q309.42,1054.69 310.03,1071.08 M323.31,1042.50 Q315.11,1056.68 317.11,1072.93 M323.61,1042.69 Q320.53,1058.74 327.76,1073.39 M324.17,1042.40 Q326.73,1058.50 338.50,1069.78 M327.20,1040.47 Q332.21,1055.94 345.58,1065.22 M330.54,1037.86 Q336.79,1052.84 350.85,1060.95 M332.97,1035.29 Q341.51,1049.05 356.66,1054.79 M336.27,1031.18 Q345.00,1044.78 360.21,1050.26 M340.51,1026.21 Q348.74,1040.08 363.73,1046.04 M344.08,1022.05 Q352.31,1035.88 367.28,1041.79 M348.52,1017.06 Q356.11,1031.22 370.78,1037.76 M353.56,1012.10 Q360.12,1026.72 374.27,1034.25 M358.46,1007.84 Q364.03,1022.83 377.64,1031.22 M364.26,1003.51 Q368.58,1018.87 381.44,1028.32 M369.08,1000.31 Q373.10,1015.72 385.77,1025.37 M374.74,996.74 Q378.03,1012.28 390.24,1022.46 M381.60,993.12 Q383.05,1008.91 393.97,1020.40 M390.62,990.33 Q387.88,1005.92 395.41,1019.83 M400.89,990.29 Q393.85,1004.42 397.12,1019.86 M407.24,991.44 Q399.32,1005.07 401.63,1020.65 M413.36,992.60 Q405.25,1006.06 407.33,1021.64 M419.26,993.99 Q410.67,1007.11 412.17,1022.72 M425.16,995.53 Q416.50,1008.56 417.92,1024.15" fill="none" stroke="#222" stroke-width="0.9"/>
<path d="M286.5,1035.5 Q282,1041 283.5,1045 Q285,1049 281.8,1052 Q283.5,1058 286.5,1060 Q285,1063 287,1065" fill="none" stroke="#333" stroke-width="0.8"/>
<ellipse cx="419.5" cy="1011" rx="6" ry="14.8" fill="none" stroke="#1a1a1a" stroke-width="1" transform="rotate(9 419.5 1011)"/>
<ellipse cx="425" cy="1011.2" rx="8.3" ry="15" fill="#151515" transform="rotate(9 425 1011.2)"/>
<ellipse cx="422.6" cy="1011.2" rx="7.2" ry="14.3" fill="#fff" stroke="#1a1a1a" stroke-width="0.9" transform="rotate(9 422.6 1011.2)"/>
<ellipse cx="422.8" cy="1011.2" rx="5.7" ry="12.9" fill="#fff" stroke="#1a1a1a" stroke-width="1.1" transform="rotate(9 422.8 1011.2)"/>
<path d="M758.4,968.8 Q758.5,960.2 768.2,960 Q778,960.2 777.7,969.3" fill="#fff" stroke="#1a1a1a" stroke-width="1.1"/>
<line x1="768.6" y1="961.5" x2="767.8" y2="964.5" stroke="#1a1a1a" stroke-width="0.8" />
<path d="M777.69,970.07 L777.63,970.54 L777.57,971.01 L777.51,971.47 L777.45,971.95 L777.39,972.43 L777.33,972.92 L777.28,973.41 L777.22,973.90 L777.16,974.40 L777.10,974.90 L777.04,975.40 L776.98,975.91 L776.92,976.41 L776.86,976.92 L776.80,977.43 L776.74,977.93 L776.68,978.44 L776.61,978.95 L776.55,979.46 L776.48,979.98 L776.42,980.49 L776.35,981.00 L776.28,981.52 L776.21,982.03 L776.14,982.55 L776.07,983.06 L776.00,983.58 L775.92,984.10 L775.85,984.62 L775.77,985.14 L775.69,985.67 L775.61,986.19 L775.53,986.72 L775.44,987.25 L775.35,987.78 L775.26,988.31 L775.17,988.85 L775.08,989.38 L774.98,989.92 L774.88,990.47 L774.77,991.01 L774.66,991.55 L774.55,992.08 L774.44,992.61 L774.33,993.13 L774.22,993.64 L774.10,994.16 L773.99,994.67 L773.87,995.18 L773.75,995.70 L773.63,996.21 L773.51,996.72 L773.39,997.23 L773.27,997.74 L773.14,998.25 L773.02,998.76 L772.89,999.27 L772.76,999.78 L772.63,1000.29 L772.50,1000.80 L772.37,1001.31 L772.24,1001.81 L772.10,1002.32 L771.97,1002.82 L771.83,1003.33 L771.69,1003.84 L771.55,1004.34 L771.41,1004.84 L771.27,1005.35 L771.12,1005.85 L770.98,1006.36 L770.83,1006.86 L770.68,1007.36 L770.54,1007.86 L770.38,1008.36 L770.23,1008.87 L770.08,1009.37 L769.93,1009.87 L769.77,1010.37 L769.62,1010.87 L769.46,1011.37 L769.30,1011.87 L769.14,1012.37 L768.98,1012.87 L768.81,1013.36 L768.65,1013.86 L768.48,1014.36 L768.32,1014.85 L768.15,1015.34 L767.98,1015.83 L767.82,1016.31 L767.65,1016.80 L767.48,1017.29 L767.31,1017.78 L767.14,1018.27 L766.97,1018.76 L766.79,1019.25 L766.62,1019.74 L766.44,1020.23 L766.26,1020.72 L766.08,1021.22 L765.90,1021.71 L765.72,1022.20 L765.53,1022.69 L765.34,1023.18 L765.16,1023.68 L764.97,1024.17 L764.78,1024.66 L764.58,1025.15 L764.39,1025.65 L764.19,1026.14 L763.99,1026.63 L763.79,1027.12 L763.59,1027.61 L763.38,1028.10 L763.18,1028.59 L762.97,1029.08 L762.76,1029.57 L762.55,1030.06 L762.33,1030.55 L762.11,1031.04 L761.90,1031.52 L761.68,1032.01 L761.45,1032.50 L761.23,1032.98 L761.00,1033.47 L760.77,1033.95 L760.54,1034.43 L760.31,1034.91 L760.08,1035.39 L759.84,1035.88 L759.60,1036.36 L759.35,1036.85 L759.10,1037.34 L758.85,1037.83 L758.59,1038.32 L758.34,1038.80 L758.08,1039.27 L757.82,1039.74 L757.56,1040.21 L757.30,1040.68 L757.04,1041.14 L756.78,1041.60 L756.52,1042.05 L756.26,1042.51 L756.00,1042.96 L755.73,1043.41 L755.47,1043.86 L755.21,1044.31 L754.94,1044.75 L754.68,1045.20 L754.41,1045.64 L754.15,1046.08 L753.88,1046.52 L753.61,1046.96 L753.35,1047.40 L753.08,1047.84 L752.81,1048.28 L752.55,1048.71 L752.28,1049.15 L752.01,1049.58 L751.74,1050.01 L751.47,1050.44 L751.21,1050.88 L750.94,1051.31 L750.67,1051.74 L750.40,1052.17 L750.13,1052.60 L749.86,1053.02 L749.60,1053.45 L749.33,1053.88 L749.06,1054.30 L748.79,1054.73 L748.53,1055.15 L748.26,1055.57 L748.00,1055.99 L747.73,1056.41 L747.47,1056.83 L747.22,1057.24 L746.96,1057.65 L746.71,1058.05 L746.46,1058.47 L746.21,1058.88 L732.79,1051.12 L733.04,1050.66 L733.29,1050.21 L733.55,1049.75 L733.80,1049.30 L734.06,1048.85 L734.31,1048.41 L734.56,1047.97 L734.81,1047.53 L735.06,1047.09 L735.31,1046.65 L735.56,1046.22 L735.80,1045.79 L736.05,1045.35 L736.29,1044.92 L736.54,1044.49 L736.78,1044.06 L737.03,1043.62 L737.27,1043.19 L737.51,1042.76 L737.76,1042.33 L738.00,1041.90 L738.24,1041.47 L738.48,1041.04 L738.72,1040.61 L738.96,1040.18 L739.19,1039.76 L739.43,1039.33 L739.66,1038.90 L739.90,1038.47 L740.13,1038.04 L740.36,1037.62 L740.59,1037.19 L740.83,1036.76 L741.05,1036.34 L741.28,1035.91 L741.50,1035.48 L741.73,1035.06 L741.95,1034.63 L742.17,1034.21 L742.39,1033.78 L742.60,1033.37 L742.82,1032.94 L743.03,1032.53 L743.24,1032.11 L743.44,1031.69 L743.64,1031.28 L743.84,1030.86 L744.03,1030.46 L744.22,1030.04 L744.41,1029.64 L744.60,1029.22 L744.78,1028.80 L744.97,1028.38 L745.16,1027.95 L745.34,1027.52 L745.52,1027.09 L745.70,1026.66 L745.88,1026.22 L746.06,1025.79 L746.24,1025.36 L746.41,1024.93 L746.58,1024.49 L746.75,1024.05 L746.92,1023.62 L747.09,1023.18 L747.26,1022.74 L747.42,1022.30 L747.58,1021.86 L747.75,1021.42 L747.91,1020.98 L748.07,1020.53 L748.22,1020.09 L748.38,1019.64 L748.53,1019.20 L748.69,1018.75 L748.84,1018.30 L748.99,1017.85 L749.14,1017.40 L749.29,1016.95 L749.44,1016.50 L749.58,1016.05 L749.73,1015.59 L749.87,1015.13 L750.02,1014.68 L750.16,1014.22 L750.30,1013.76 L750.44,1013.30 L750.58,1012.84 L750.72,1012.37 L750.86,1011.91 L751.00,1011.45 L751.14,1010.98 L751.28,1010.51 L751.41,1010.05 L751.55,1009.58 L751.68,1009.12 L751.81,1008.66 L751.94,1008.20 L752.07,1007.74 L752.20,1007.28 L752.33,1006.82 L752.45,1006.36 L752.58,1005.90 L752.70,1005.43 L752.82,1004.97 L752.94,1004.51 L753.06,1004.05 L753.18,1003.58 L753.29,1003.12 L753.41,1002.65 L753.52,1002.19 L753.64,1001.73 L753.75,1001.26 L753.86,1000.80 L753.97,1000.33 L754.08,999.86 L754.19,999.40 L754.29,998.93 L754.40,998.47 L754.50,998.00 L754.60,997.53 L754.71,997.07 L754.80,996.60 L754.90,996.13 L755.00,995.67 L755.10,995.20 L755.19,994.73 L755.29,994.27 L755.38,993.80 L755.47,993.33 L755.56,992.86 L755.65,992.39 L755.74,991.93 L755.82,991.46 L755.91,990.99 L755.99,990.52 L756.07,990.06 L756.15,989.59 L756.23,989.13 L756.31,988.67 L756.38,988.21 L756.45,987.77 L756.52,987.32 L756.58,986.88 L756.64,986.43 L756.70,985.98 L756.76,985.52 L756.82,985.07 L756.87,984.60 L756.93,984.14 L756.98,983.67 L757.03,983.21 L757.08,982.74 L757.13,982.27 L757.18,981.79 L757.22,981.32 L757.27,980.84 L757.32,980.36 L757.36,979.88 L757.40,979.40 L757.44,978.92 L757.49,978.44 L757.53,977.96 L757.57,977.47 L757.61,976.99 L757.65,976.50 L757.68,976.01 L757.72,975.53 L757.76,975.04 L757.80,974.54 L757.83,974.05 L757.87,973.56 L757.91,973.06 L757.94,972.57 L757.98,972.07 L758.02,971.57 L758.05,971.06 L758.09,970.55 L758.13,970.04 L758.17,969.52 L758.22,968.98 L758.26,968.46 L758.31,967.93Z" fill="#fff" stroke="none"/>
<path d="M777.69,970.07 L777.63,970.54 L777.57,971.01 L777.51,971.47 L777.45,971.95 L777.39,972.43 L777.33,972.92 L777.28,973.41 L777.22,973.90 L777.16,974.40 L777.10,974.90 L777.04,975.40 L776.98,975.91 L776.92,976.41 L776.86,976.92 L776.80,977.43 L776.74,977.93 L776.68,978.44 L776.61,978.95 L776.55,979.46 L776.48,979.98 L776.42,980.49 L776.35,981.00 L776.28,981.52 L776.21,982.03 L776.14,982.55 L776.07,983.06 L776.00,983.58 L775.92,984.10 L775.85,984.62 L775.77,985.14 L775.69,985.67 L775.61,986.19 L775.53,986.72 L775.44,987.25 L775.35,987.78 L775.26,988.31 L775.17,988.85 L775.08,989.38 L774.98,989.92 L774.88,990.47 L774.77,991.01 L774.66,991.55 L774.55,992.08 L774.44,992.61 L774.33,993.13 L774.22,993.64 L774.10,994.16 L773.99,994.67 L773.87,995.18 L773.75,995.70 L773.63,996.21 L773.51,996.72 L773.39,997.23 L773.27,997.74 L773.14,998.25 L773.02,998.76 L772.89,999.27 L772.76,999.78 L772.63,1000.29 L772.50,1000.80 L772.37,1001.31 L772.24,1001.81 L772.10,1002.32 L771.97,1002.82 L771.83,1003.33 L771.69,1003.84 L771.55,1004.34 L771.41,1004.84 L771.27,1005.35 L771.12,1005.85 L770.98,1006.36 L770.83,1006.86 L770.68,1007.36 L770.54,1007.86 L770.38,1008.36 L770.23,1008.87 L770.08,1009.37 L769.93,1009.87 L769.77,1010.37 L769.62,1010.87 L769.46,1011.37 L769.30,1011.87 L769.14,1012.37 L768.98,1012.87 L768.81,1013.36 L768.65,1013.86 L768.48,1014.36 L768.32,1014.85 L768.15,1015.34 L767.98,1015.83 L767.82,1016.31 L767.65,1016.80 L767.48,1017.29 L767.31,1017.78 L767.14,1018.27 L766.97,1018.76 L766.79,1019.25 L766.62,1019.74 L766.44,1020.23 L766.26,1020.72 L766.08,1021.22 L765.90,1021.71 L765.72,1022.20 L765.53,1022.69 L765.34,1023.18 L765.16,1023.68 L764.97,1024.17 L764.78,1024.66 L764.58,1025.15 L764.39,1025.65 L764.19,1026.14 L763.99,1026.63 L763.79,1027.12 L763.59,1027.61 L763.38,1028.10 L763.18,1028.59 L762.97,1029.08 L762.76,1029.57 L762.55,1030.06 L762.33,1030.55 L762.11,1031.04 L761.90,1031.52 L761.68,1032.01 L761.45,1032.50 L761.23,1032.98 L761.00,1033.47 L760.77,1033.95 L760.54,1034.43 L760.31,1034.91 L760.08,1035.39 L759.84,1035.88 L759.60,1036.36 L759.35,1036.85 L759.10,1037.34 L758.85,1037.83 L758.59,1038.32 L758.34,1038.80 L758.08,1039.27 L757.82,1039.74 L757.56,1040.21 L757.30,1040.68 L757.04,1041.14 L756.78,1041.60 L756.52,1042.05 L756.26,1042.51 L756.00,1042.96 L755.73,1043.41 L755.47,1043.86 L755.21,1044.31 L754.94,1044.75 L754.68,1045.20 L754.41,1045.64 L754.15,1046.08 L753.88,1046.52 L753.61,1046.96 L753.35,1047.40 L753.08,1047.84 L752.81,1048.28 L752.55,1048.71 L752.28,1049.15 L752.01,1049.58 L751.74,1050.01 L751.47,1050.44 L751.21,1050.88 L750.94,1051.31 L750.67,1051.74 L750.40,1052.17 L750.13,1052.60 L749.86,1053.02 L749.60,1053.45 L749.33,1053.88 L749.06,1054.30 L748.79,1054.73 L748.53,1055.15 L748.26,1055.57 L748.00,1055.99 L747.73,1056.41 L747.47,1056.83 L747.22,1057.24 L746.96,1057.65 L746.71,1058.05 L746.46,1058.47 L746.21,1058.88" fill="none" stroke="#1a1a1a" stroke-width="1.0" stroke-linejoin="round"/>
<path d="M758.31,967.93 L758.26,968.46 L758.22,968.98 L758.17,969.52 L758.13,970.04 L758.09,970.55 L758.05,971.06 L758.02,971.57 L757.98,972.07 L757.94,972.57 L757.91,973.06 L757.87,973.56 L757.83,974.05 L757.80,974.54 L757.76,975.04 L757.72,975.53 L757.68,976.01 L757.65,976.50 L757.61,976.99 L757.57,977.47 L757.53,977.96 L757.49,978.44 L757.44,978.92 L757.40,979.40 L757.36,979.88 L757.32,980.36 L757.27,980.84 L757.22,981.32 L757.18,981.79 L757.13,982.27 L757.08,982.74 L757.03,983.21 L756.98,983.67 L756.93,984.14 L756.87,984.60 L756.82,985.07 L756.76,985.52 L756.70,985.98 L756.64,986.43 L756.58,986.88 L756.52,987.32 L756.45,987.77 L756.38,988.21 L756.31,988.67 L756.23,989.13 L756.15,989.59 L756.07,990.06 L755.99,990.52 L755.91,990.99 L755.82,991.46 L755.74,991.93 L755.65,992.39 L755.56,992.86 L755.47,993.33 L755.38,993.80 L755.29,994.27 L755.19,994.73 L755.10,995.20 L755.00,995.67 L754.90,996.13 L754.80,996.60 L754.71,997.07 L754.60,997.53 L754.50,998.00 L754.40,998.47 L754.29,998.93 L754.19,999.40 L754.08,999.86 L753.97,1000.33 L753.86,1000.80 L753.75,1001.26 L753.64,1001.73 L753.52,1002.19 L753.41,1002.65 L753.29,1003.12 L753.18,1003.58 L753.06,1004.05 L752.94,1004.51 L752.82,1004.97 L752.70,1005.43 L752.58,1005.90 L752.45,1006.36 L752.33,1006.82 L752.20,1007.28 L752.07,1007.74 L751.94,1008.20 L751.81,1008.66 L751.68,1009.12 L751.55,1009.58 L751.41,1010.05 L751.28,1010.51 L751.14,1010.98 L751.00,1011.45 L750.86,1011.91 L750.72,1012.37 L750.58,1012.84 L750.44,1013.30 L750.30,1013.76 L750.16,1014.22 L750.02,1014.68 L749.87,1015.13 L749.73,1015.59 L749.58,1016.05 L749.44,1016.50 L749.29,1016.95 L749.14,1017.40 L748.99,1017.85 L748.84,1018.30 L748.69,1018.75 L748.53,1019.20 L748.38,1019.64 L748.22,1020.09 L748.07,1020.53 L747.91,1020.98 L747.75,1021.42 L747.58,1021.86 L747.42,1022.30 L747.26,1022.74 L747.09,1023.18 L746.92,1023.62 L746.75,1024.05 L746.58,1024.49 L746.41,1024.93 L746.24,1025.36 L746.06,1025.79 L745.88,1026.22 L745.70,1026.66 L745.52,1027.09 L745.34,1027.52 L745.16,1027.95 L744.97,1028.38 L744.78,1028.80 L744.60,1029.22 L744.41,1029.64 L744.22,1030.04 L744.03,1030.46 L743.84,1030.86 L743.64,1031.28 L743.44,1031.69 L743.24,1032.11 L743.03,1032.53 L742.82,1032.94 L742.60,1033.37 L742.39,1033.78 L742.17,1034.21 L741.95,1034.63 L741.73,1035.06 L741.50,1035.48 L741.28,1035.91 L741.05,1036.34 L740.83,1036.76 L740.59,1037.19 L740.36,1037.62 L740.13,1038.04 L739.90,1038.47 L739.66,1038.90 L739.43,1039.33 L739.19,1039.76 L738.96,1040.18 L738.72,1040.61 L738.48,1041.04 L738.24,1041.47 L738.00,1041.90 L737.76,1042.33 L737.51,1042.76 L737.27,1043.19 L737.03,1043.62 L736.78,1044.06 L736.54,1044.49 L736.29,1044.92 L736.05,1045.35 L735.80,1045.79 L735.56,1046.22 L735.31,1046.65 L735.06,1047.09 L734.81,1047.53 L734.56,1047.97 L734.31,1048.41 L734.06,1048.85 L733.80,1049.30 L733.55,1049.75 L733.29,1050.21 L733.04,1050.66 L732.79,1051.12" fill="none" stroke="#1a1a1a" stroke-width="1.0" stroke-linejoin="round"/>
<path d="M777.28,973.41 Q768.52,963.33 758.02,971.57 M776.68,978.44 Q768.09,968.32 757.65,976.50 M776.00,983.58 Q767.71,973.32 757.22,981.32 M775.17,988.85 Q767.35,978.32 756.70,985.98 M774.10,994.16 Q766.86,983.32 755.99,990.52 M772.89,999.27 Q766.05,988.27 755.10,995.20 M771.55,1004.34 Q765.10,993.19 754.08,999.86 M770.08,1009.37 Q764.02,998.09 752.94,1004.51 M768.48,1014.36 Q762.82,1002.95 751.68,1009.12 M766.79,1019.25 Q761.45,1007.78 750.30,1013.76 M764.97,1024.17 Q760.05,1012.59 748.84,1018.30 M762.97,1029.08 Q758.55,1017.38 747.26,1022.74 M760.77,1033.95 Q756.92,1022.13 745.52,1027.09 M758.34,1038.80 Q755.18,1026.85 743.64,1031.28 M755.73,1043.41 Q753.10,1031.41 741.50,1035.48 M753.08,1047.84 Q750.76,1035.85 739.19,1039.76 M750.40,1052.17 Q748.30,1040.21 736.78,1044.06 M747.73,1056.41 Q745.74,1044.51 734.31,1048.41" fill="none" stroke="#2a2a2a" stroke-width="0.8"/>
<path d="M668.6,989 L668.6,1111.9 L704.1,1119 L714.4,1118.6 L741.9,1109.6 L741.9,991 L714.4,996 L704.1,995.6 Z" fill="#fff" stroke="#1a1a1a" stroke-width="1.2"/>
<line x1="670.5" y1="991" x2="670.5" y2="1110.5" stroke="#1a1a1a" stroke-width="1.1" />
<line x1="704.5" y1="995.6" x2="704.5" y2="1119" stroke="#1a1a1a" stroke-width="1" />
<line x1="714.5" y1="996" x2="714.5" y2="1118.6" stroke="#1a1a1a" stroke-width="1" />
<line x1="741.9" y1="1000" x2="741.9" y2="1109.6" stroke="#1a1a1a" stroke-width="1.8" />
<polyline points="668.6,1107.5 704.1,1114.3 714.4,1114 741.9,1105.5" fill="none" stroke="#1a1a1a" stroke-width="0.8"/>
<path d="M669,988.5 Q669.5,986 673,985.3 L700.1,979.6 L738,986.8 Q741.5,988 741.6,990.5 L714.4,995.8 Q709,997 704.1,995.6 L669.2,989.3 Z" fill="#fff" stroke="#1a1a1a" stroke-width="1.1"/>
<polyline points="670.5,992.5 704.1,998.5 714.4,998.5 741.6,993.5" fill="none" stroke="#1a1a1a" stroke-width="0.8"/>
<path d="M688,986 L700,983.8 L713,986.3" fill="none" stroke="#888" stroke-width="0.8"/>
<path d="M670.7,1000.3 L680.3,1002 L680.3,1029.7 L670.7,1028.5 Z" fill="#f2f2f2" stroke="#666" stroke-width="0.6"/>
<line x1="670.7" y1="1006.0" x2="680.3" y2="1006.4" stroke="#1a1a1a" stroke-width="1.6" />
<line x1="680.3" y1="1006.4" x2="694.5" y2="1010.5" stroke="#1a1a1a" stroke-width="1.4" />
<line x1="670.7" y1="1011.9" x2="680.3" y2="1012.3" stroke="#1a1a1a" stroke-width="1.6" />
<line x1="680.3" y1="1012.3" x2="694.5" y2="1016.4" stroke="#1a1a1a" stroke-width="1.4" />
<line x1="670.7" y1="1017.8" x2="680.3" y2="1018.1999999999999" stroke="#1a1a1a" stroke-width="1.6" />
<line x1="680.3" y1="1018.1999999999999" x2="694.5" y2="1022.3" stroke="#1a1a1a" stroke-width="1.4" />
<line x1="670.7" y1="1023.7" x2="680.3" y2="1024.1000000000001" stroke="#1a1a1a" stroke-width="1.6" />
<line x1="680.3" y1="1024.1000000000001" x2="694.5" y2="1028.2" stroke="#1a1a1a" stroke-width="1.4" />
<line x1="680.3" y1="1002" x2="694.5" y2="1006" stroke="#555" stroke-width="0.8" />
<line x1="680.3" y1="1029.7" x2="694.5" y2="1033.5" stroke="#555" stroke-width="0.8" />
<line x1="680.3" y1="1006" x2="680.3" y2="1025" stroke="#1a1a1a" stroke-width="1.1" />
<path d="M692.4,1005.5 L703.6,1006.5 L703.6,1034.8 L692.4,1033.5 Z" fill="#2a2a2a"/>
<rect x="695.2" y="1007.5" width="1.4" height="25" fill="#ddd"/>
<rect x="699.2" y="1007.5" width="1.4" height="25" fill="#ddd"/>
<line x1="692.4" y1="1011.0" x2="703.6" y2="1011.4" stroke="#999" stroke-width="0.5" />
<line x1="692.4" y1="1016.7" x2="703.6" y2="1017.1" stroke="#999" stroke-width="0.5" />
<line x1="692.4" y1="1022.4" x2="703.6" y2="1022.8" stroke="#999" stroke-width="0.5" />
<line x1="692.4" y1="1028.1" x2="703.6" y2="1028.5" stroke="#999" stroke-width="0.5" />
<line x1="692.4" y1="1033.8" x2="703.6" y2="1034.2" stroke="#999" stroke-width="0.5" />
<ellipse cx="677.2" cy="1117" rx="3.2" ry="2.9" fill="#444" stroke="#1a1a1a" stroke-width="1.1"/>
<circle cx="677.2" cy="1116.8" r="1.2" fill="#ccc"/>
<ellipse cx="710.4" cy="1122.8" rx="3.2" ry="2.9" fill="#444" stroke="#1a1a1a" stroke-width="1.1"/>
<circle cx="710.4" cy="1122.6" r="1.2" fill="#ccc"/>
<ellipse cx="732.7" cy="1117.6" rx="3.2" ry="2.9" fill="#444" stroke="#1a1a1a" stroke-width="1.1"/>
<circle cx="732.7" cy="1117.3999999999999" r="1.2" fill="#ccc"/>
<circle cx="719.6" cy="1111.9" r="0.9" fill="#1a1a1a"/>
<circle cx="735" cy="1107.9" r="0.9" fill="#1a1a1a"/>
</svg>
</body></html>
